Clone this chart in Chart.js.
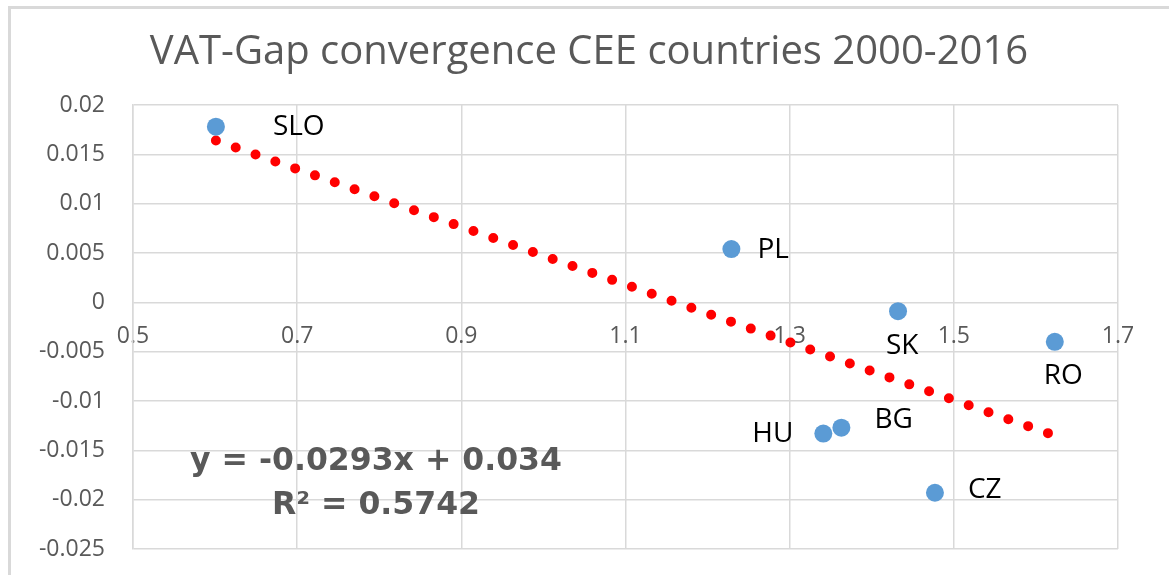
<!DOCTYPE html>
<html>
<head>
<meta charset="utf-8">
<script src="https://cdn.jsdelivr.net/npm/chart.js@4.4.1/dist/chart.umd.min.js"></script>
<style>
    html, body { margin: 0; padding: 0; background: #fff; }
    #wrap { position: relative; width: 1169px; height: 575px; overflow: hidden; }
    #frame { position: absolute; left: 8px; top: 6px; right: -10px; bottom: -10px;
             border-top: 3px solid #d9d9d9; border-left: 3px solid #d9d9d9; }
    #chart { position: absolute; left: 0; top: 0; }
</style>
</head>
<body>
<div id="wrap">
    <div id="frame"></div>
    <canvas id="chart" width="1169" height="575"></canvas>
</div>
<script>
// Datos
const countries = ['SLO', 'PL', 'SK', 'RO', 'HU', 'BG', 'CZ'];
const convX = [0.601, 1.229, 1.432, 1.623, 1.341, 1.363, 1.477];
const gapY = [0.0178, 0.0054, -0.0009, -0.0040, -0.0133, -0.0127, -0.0193];

// Línea de tendencia (extremos)
const trendX = [0.601, 1.623];
const trendY = [0.0164, -0.0135];
const trendText = ['y = -0.0293x + 0.034', 'R\u00B2 = 0.5742'];

// Ejes
const xTicks = [0.5, 0.7, 0.9, 1.1, 1.3, 1.5, 1.7];
const yTicks = [-0.025, -0.02, -0.015, -0.01, -0.005, 0, 0.005, 0.01, 0.015, 0.02];

const grey = '#595959';
const gridColor = '#d9d9d9';

// desplazamiento de cada etiqueta respecto a su punto (px)
const labelOffsets = [[57, 0], [26, 1], [-12, 35], [-11, 34], [-71, 0], [33, -8], [33, -3]];

const pointLabels = {
    id: 'pointLabels',
    afterDatasetsDraw(chart) {
        const ctx = chart.ctx;
        const meta = chart.getDatasetMeta(0);
        ctx.save();
        ctx.font = '28px "Open Sans"';
        ctx.fillStyle = '#000';
        ctx.textAlign = 'left';
        ctx.textBaseline = 'middle';
        meta.data.forEach((pt, i) => {
            ctx.fillText(countries[i], pt.x + labelOffsets[i][0], pt.y + labelOffsets[i][1]);
        });

        // ecuación de la tendencia
        const area = chart.chartArea;
        ctx.font = 'bold 31.5px "DejaVu Sans"';
        ctx.fillStyle = grey;
        ctx.textAlign = 'center';
        ctx.fillText(trendText[0], area.left + 243, area.top + 357);
        ctx.fillText(trendText[1], area.left + 243, area.top + 401);
        ctx.restore();
    }
};

new Chart(document.getElementById('chart'), {
    type: 'scatter',
    data: {
        datasets: [{
            label: 'VAT-Gap',
            data: convX.map((x, i) => ({ x: x, y: gapY[i] })),
            backgroundColor: '#5B9BD5',
            borderWidth: 0,
            pointRadius: 9,
            order: 0
        }, {
            label: 'Tendencia',
            data: trendX.map((x, i) => ({ x: x, y: trendY[i] })),
            showLine: true,
            borderColor: '#ff0000',
            borderWidth: 10,
            borderDash: [0, 21],
            borderCapStyle: 'round',
            pointRadius: 0,
            order: 1
        }]
    },
    options: {
        responsive: false,
        animation: false,
        layout: { padding: { top: 0, left: 9, right: 0, bottom: 26 } },
        plugins: {
            legend: { display: false },
            tooltip: { enabled: false },
            title: {
                display: true,
                text: 'VAT-Gap convergence CEE countries 2000-2016',
                color: grey,
                font: { family: 'Open Sans', size: 40, weight: 'normal' },
                padding: { top: 29, bottom: 28 }
            }
        },
        scales: {
            x: {
                type: 'linear',
                min: 0.5,
                max: 1.7,
                position: { y: 0 },
                afterBuildTicks: s => { s.ticks = xTicks.map(v => ({ value: v })); },
                afterFit: s => {
                    s.height = 0;
                    s.paddingTop = 0; s.paddingBottom = 0;
                    s.paddingLeft = 0; s.paddingRight = 0;
                },
                ticks: {
                    color: grey,
                    font: { family: 'Open Sans', size: 23 },
                    padding: 20,
                    maxRotation: 0,
                    callback: v => String(v)
                },
                grid: { color: gridColor, lineWidth: 1.5, drawTicks: false },
                border: { display: false }
            },
            y: {
                type: 'linear',
                min: -0.025,
                max: 0.02,
                afterBuildTicks: s => { s.ticks = yTicks.map(v => ({ value: v })); },
                afterFit: s => { s.width = 124; s.paddingTop = 0; s.paddingBottom = 0; },
                ticks: {
                    color: grey,
                    font: { family: 'Open Sans', size: 23 },
                    padding: 28,
                    callback: v => String(v)
                },
                grid: { color: gridColor, lineWidth: 1.5, drawTicks: false },
                border: { color: gridColor, width: 1.5 }
            },
            // eje vacío a la derecha, sólo reserva espacio
            y2: {
                position: 'right',
                display: true,
                ticks: { display: false },
                grid: { display: false },
                border: { display: false },
                afterFit: s => { s.width = 51; }
            }
        }
    },
    plugins: [pointLabels]
});
</script>
</body>
</html>
